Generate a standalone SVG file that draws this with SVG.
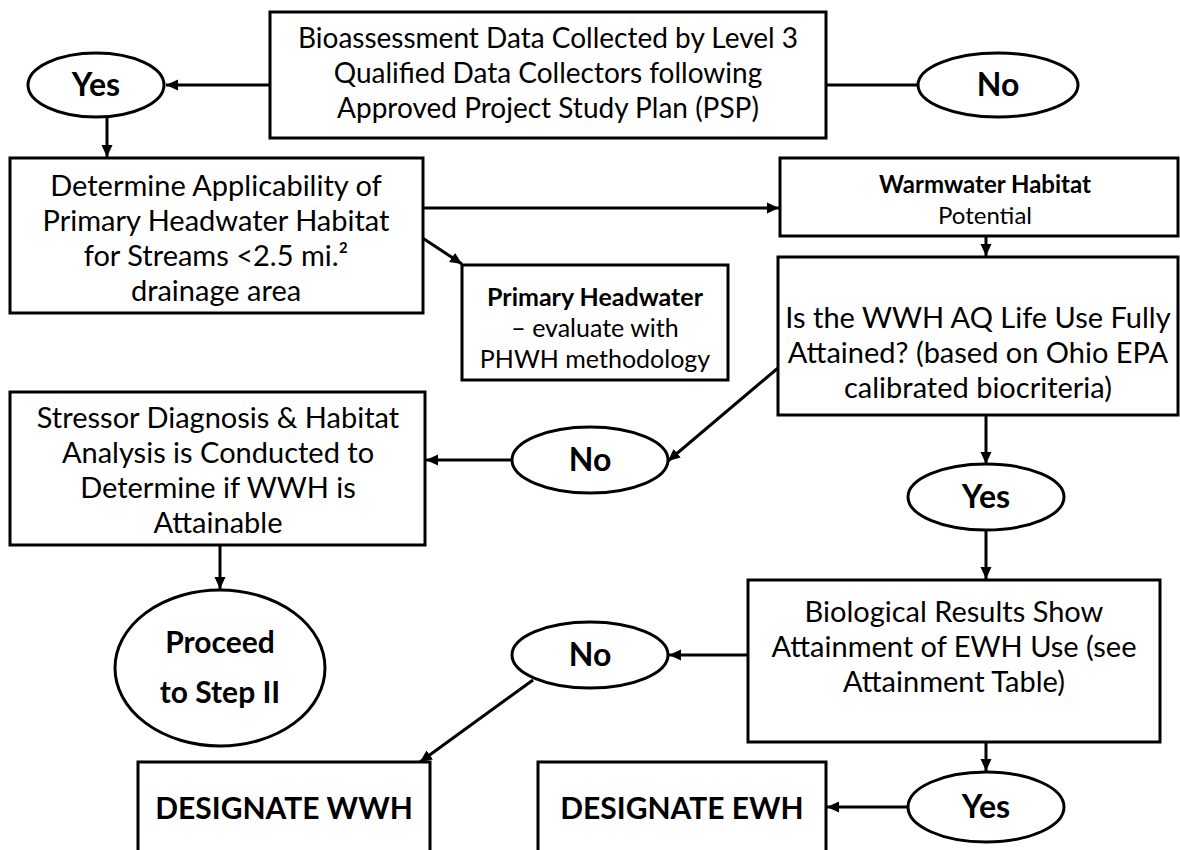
<svg xmlns="http://www.w3.org/2000/svg" width="1180" height="850" viewBox="0 0 1180 850">
<style>
.box{fill:#fff;stroke:#000;stroke-width:3}
.ell{fill:#fff;stroke:#000;stroke-width:3}
.t{font-family:Lato,"Open Sans","Liberation Sans",sans-serif;font-size:29px;fill:#000;text-anchor:middle}
.top{font-size:28px}
.b{font-weight:bold}
.s{font-size:25px}
.w{font-size:24px}
.big{font-size:30px;font-weight:bold}
.yn{font-size:32px;font-weight:bold}
.c{fill:none;stroke:#000;stroke-width:3}
</style>
<defs>
<marker id="ah" markerUnits="userSpaceOnUse" markerWidth="14" markerHeight="12" refX="12" refY="6" orient="auto">
<path d="M0,0.5 L12,6 L0,11.5 z" fill="#000"/>
</marker>
</defs>
<rect width="1180" height="850" fill="#fff"/>
<g id="connectors">
<line class="c" x1="270" y1="85" x2="166" y2="85" marker-end="url(#ah)"/>
<line class="c" x1="826" y1="85" x2="918" y2="85"/>
<line class="c" x1="107" y1="117" x2="107" y2="157" marker-end="url(#ah)"/>
<line class="c" x1="423" y1="208" x2="779" y2="208" marker-end="url(#ah)"/>
<line class="c" x1="421" y1="237" x2="462" y2="264" marker-end="url(#ah)"/>
<line class="c" x1="986" y1="236" x2="986" y2="256" marker-end="url(#ah)"/>
<line class="c" x1="778" y1="368" x2="668" y2="461" marker-end="url(#ah)"/>
<line class="c" x1="512" y1="460" x2="426" y2="460" marker-end="url(#ah)"/>
<line class="c" x1="986" y1="415" x2="986" y2="464" marker-end="url(#ah)"/>
<line class="c" x1="986" y1="530" x2="986" y2="579" marker-end="url(#ah)"/>
<line class="c" x1="220" y1="545" x2="220" y2="589" marker-end="url(#ah)"/>
<line class="c" x1="748" y1="655" x2="669" y2="655" marker-end="url(#ah)"/>
<line class="c" x1="533" y1="680" x2="420" y2="762" marker-end="url(#ah)"/>
<line class="c" x1="986" y1="742" x2="986" y2="771" marker-end="url(#ah)"/>
<line class="c" x1="908" y1="807" x2="827" y2="807" marker-end="url(#ah)"/>
</g>
<g id="n-top">
<rect class="box" x="270" y="12" width="556" height="126"/>
<text class="t top" x="548" y="48">Bioassessment Data Collected by Level 3</text>
<text class="t top" x="548" y="83">Qualified Data Collectors following</text>
<text class="t top" x="548" y="118">Approved Project Study Plan (PSP)</text>
</g>
<g id="n-yes1">
<ellipse class="ell" cx="96" cy="85" rx="68" ry="32"/>
<text class="t yn" x="96" y="96">Yes</text>
</g>
<g id="n-no1">
<ellipse class="ell" cx="998" cy="85" rx="80" ry="32"/>
<text class="t yn" x="998" y="96">No</text>
</g>
<g id="n-determine">
<rect class="box" x="10" y="158" width="413" height="155"/>
<text class="t" x="216" y="196">Determine Applicability of</text>
<text class="t" x="216" y="231">Primary Headwater Habitat</text>
<text class="t" x="216" y="266">for Streams &lt;2.5 mi.²</text>
<text class="t" x="216" y="301">drainage area</text>
</g>
<g id="n-phwh">
<rect class="box" x="462" y="265" width="266" height="115"/>
<text class="t s b" x="595" y="306">Primary Headwater</text>
<text class="t s" x="595" y="337">– evaluate with</text>
<text class="t s" x="595" y="368">PHWH methodology</text>
</g>
<g id="n-wwh">
<rect class="box" x="780" y="158" width="398" height="78"/>
<text class="t w b" x="985" y="193">Warmwater Habitat</text>
<text class="t w" x="985" y="224">Potential</text>
</g>
<g id="n-attained">
<rect class="box" x="778" y="257" width="400" height="158"/>
<text class="t" x="978" y="328">Is the WWH AQ Life Use Fully</text>
<text class="t" x="978" y="363">Attained? (based on Ohio EPA</text>
<text class="t" x="978" y="398">calibrated biocriteria)</text>
</g>
<g id="n-stressor">
<rect class="box" x="10" y="392" width="415" height="153"/>
<text class="t" x="218" y="428">Stressor Diagnosis &amp; Habitat</text>
<text class="t" x="218" y="463">Analysis is Conducted to</text>
<text class="t" x="218" y="498">Determine if WWH is</text>
<text class="t" x="218" y="533">Attainable</text>
</g>
<g id="n-no2">
<ellipse class="ell" cx="590" cy="460" rx="78" ry="33"/>
<text class="t yn" x="590" y="471">No</text>
</g>
<g id="n-yes2">
<ellipse class="ell" cx="986" cy="497" rx="78" ry="33"/>
<text class="t yn" x="986" y="508">Yes</text>
</g>
<g id="n-proceed">
<ellipse class="ell" cx="220" cy="668" rx="105" ry="78"/>
<text class="t big" x="220" y="653">Proceed</text>
<text class="t big" x="220" y="703">to Step II</text>
</g>
<g id="n-bio">
<rect class="box" x="748" y="580" width="412" height="162"/>
<text class="t" x="954" y="622">Biological Results Show</text>
<text class="t" x="954" y="657">Attainment of EWH Use (see</text>
<text class="t" x="954" y="692">Attainment Table)</text>
</g>
<g id="n-no3">
<ellipse class="ell" cx="590" cy="655" rx="78" ry="33"/>
<text class="t yn" x="590" y="666">No</text>
</g>
<g id="n-dwwh">
<rect class="box" x="138" y="762" width="292" height="100"/>
<text class="t big" x="284" y="819">DESIGNATE WWH</text>
</g>
<g id="n-dewh">
<rect class="box" x="538" y="762" width="288" height="100"/>
<text class="t big" x="682" y="819">DESIGNATE EWH</text>
</g>
<g id="n-yes3">
<ellipse class="ell" cx="986" cy="807" rx="78" ry="35"/>
<text class="t yn" x="986" y="818">Yes</text>
</g>
</svg>
